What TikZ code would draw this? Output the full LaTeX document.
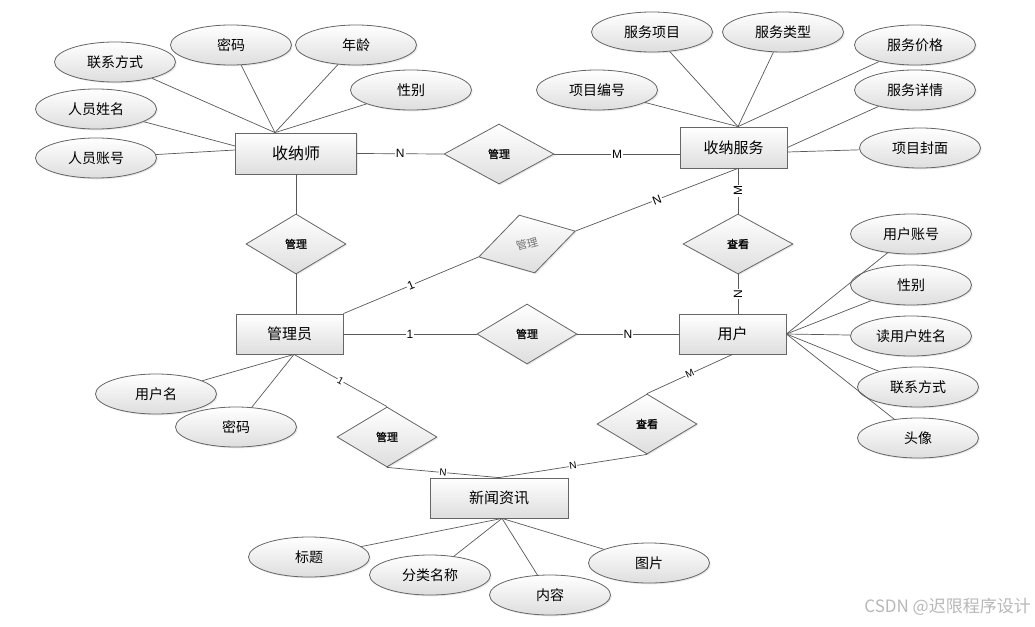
\documentclass[tikz,border=0pt]{standalone}
\usepackage{fontspec}
\setmainfont{Noto Sans CJK SC}
\newfontfamily\latinfont{Liberation Sans}
\newfontfamily\relfont[FakeBold=1]{Noto Sans CJK SC}
\usetikzlibrary{shapes.geometric,shadows}
\begin{document}
\begin{tikzpicture}[x=1pt,y=-1pt,
 base/.style={draw=black!60, line width=0.8pt, top color=white, bottom color=black!13,
   drop shadow={opacity=0.18,shadow xshift=1.3pt,shadow yshift=-1.3pt}, inner sep=0pt},
 attr/.style={base, ellipse, minimum width=121pt, minimum height=40pt, font=\fontsize{14}{16}\selectfont},
 ent/.style={base, rectangle, minimum width=107pt, minimum height=40pt, font=\fontsize{15}{18}\selectfont},
 rel/.style={base, diamond, minimum width=100pt, minimum height=60pt, font=\relfont\fontsize{11}{13}\selectfont},
 conn/.style={draw=black!65, line width=0.7pt},
 card/.style={fill=white, inner sep=1pt, font=\latinfont\fontsize{12}{14}\selectfont},
 cardsmall/.style={fill=white, inner sep=0.5pt, font=\latinfont\fontsize{10}{12}\selectfont},
]
\useasboundingbox (0,0) rectangle (1035,626);
\fill[white] (0,0) rectangle (1035,626);

% entities
\node[ent, minimum width=121pt, minimum height=41pt, font=\fontsize{16}{18}\selectfont] (sn) at (296,153.5) {收纳师};
\node[ent, minimum height=41pt] (fw) at (733.5,147.5) {收纳服务};
\node[ent] (gly) at (289.5,334) {管理员};
\node[ent] (yh) at (732.5,334) {用户};
\node[ent, minimum width=138pt] (xw) at (499,498) {新闻资讯};

% relationships
\node[rel, minimum width=110pt] (r1) at (499,154) {管理};
\node[rel] (r2) at (296,244) {管理};
\node[rel, rotate=15, font=\fontsize{11}{13}\selectfont, text=black!55] (r3) at (527,244) {管理};
\node[rel, minimum width=110pt] (r4) at (738,244) {查看};
\node[rel] (r5) at (527,334) {管理};
\node[rel] (r6) at (387,437) {管理};
\node[rel] (r7) at (647,424) {查看};

% attributes of 收纳师
\node[attr] (a1) at (115,62) {联系方式};
\node[attr] (a2) at (231,45) {密码};
\node[attr] (a3) at (356,45) {年龄};
\node[attr] (a4) at (411,90) {性别};
\node[attr] (a5) at (96,109) {人员姓名};
\node[attr] (a6) at (96,158) {人员账号};
% attributes of 收纳服务
\node[attr] (b1) at (652,32) {服务项目};
\node[attr] (b2) at (783,32) {服务类型};
\node[attr] (b3) at (915,45) {服务价格};
\node[attr] (b4) at (597,90) {项目编号};
\node[attr] (b5) at (915,90) {服务详情};
\node[attr] (b6) at (920,148) {项目封面};
% attributes of 用户
\node[attr] (c1) at (911,234) {用户账号};
\node[attr] (c2) at (911,285) {性别};
\node[attr] (c3) at (911,336) {读用户姓名};
\node[attr] (c4) at (918,387) {联系方式};
\node[attr] (c5) at (918,438) {头像};
% attributes of 管理员
\node[attr] (d1) at (156,394) {用户名};
\node[attr] (d2) at (236,427) {密码};
% attributes of 新闻资讯
\node[attr] (e1) at (309,557) {标题};
\node[attr] (e2) at (430,575) {分类名称};
\node[attr] (e3) at (550,595) {内容};
\node[attr] (e4) at (649,563) {图片};

% anchor points
\coordinate (snT) at ([xshift=-21pt]sn.north);
\coordinate (fwT) at ([xshift=4.5pt]fw.north);
\coordinate (fwB) at ([xshift=4.5pt]fw.south);
\coordinate (glyB) at ([xshift=4.5pt]gly.south);
\coordinate (xwB) at ([xshift=3pt]xw.south);

% attribute connectors
\foreach \a in {a1,a2,a3,a4} \draw[conn] (\a) -- (snT);
\draw[conn] (a5) -- ([yshift=7.5pt]sn.west);
\draw[conn] (a6) -- ([yshift=3.5pt]sn.west);
\foreach \a in {b1,b2,b3,b4} \draw[conn] (\a) -- (fwT);
\draw[conn] (b5) -- (fw.east);
\draw[conn] (b6) -- ([yshift=-4.5pt]fw.east);
\foreach \a in {c1,c2,c3,c4,c5} \draw[conn] (\a) -- (yh.east);
\foreach \a in {d1,d2} \draw[conn] (\a) -- (glyB);
\foreach \a in {e1,e2,e3,e4} \draw[conn] (\a) -- (xwB);

% relationship connectors
\draw[conn] (sn.east) -- node[card]{N} (r1.west);
\draw[conn] (r1.east) -- node[card]{M} (r1.east -| fw.west);
\draw[conn] (sn.south) -- (r2.north);
\draw[conn] (r2.south) -- (r2.south |- gly.north);
\draw[conn] (gly.north east) -- node[card, sloped]{1} (r3.west);
\draw[conn] (r3.east) -- node[card, sloped]{N} (fwB);
\draw[conn] (fwB) -- node[card, rotate=90]{M} (r4.north);
\draw[conn] (r4.south) -- node[card, rotate=90]{N} (r4.south |- yh.north);
\draw[conn] (gly.east) -- node[card]{1} (r5.west);
\draw[conn] (r5.east) -- node[card]{N} (yh.west);
\draw[conn] (glyB) -- node[cardsmall, sloped]{1} (r6.north);
\draw[conn] (r6.south) -- node[cardsmall, sloped]{N} (xw.north);
\draw[conn] (yh.south) -- node[cardsmall, sloped]{M} (r7.north);
\draw[conn] (r7.south) -- node[cardsmall, sloped]{N} (xw.north);

% watermark
\node[anchor=east, text=black!28, font=\fontsize{17}{20}\selectfont, inner sep=0pt] (wm) at (1031,607) {CSDN @迟限程序设计};
\end{tikzpicture}
\end{document}
